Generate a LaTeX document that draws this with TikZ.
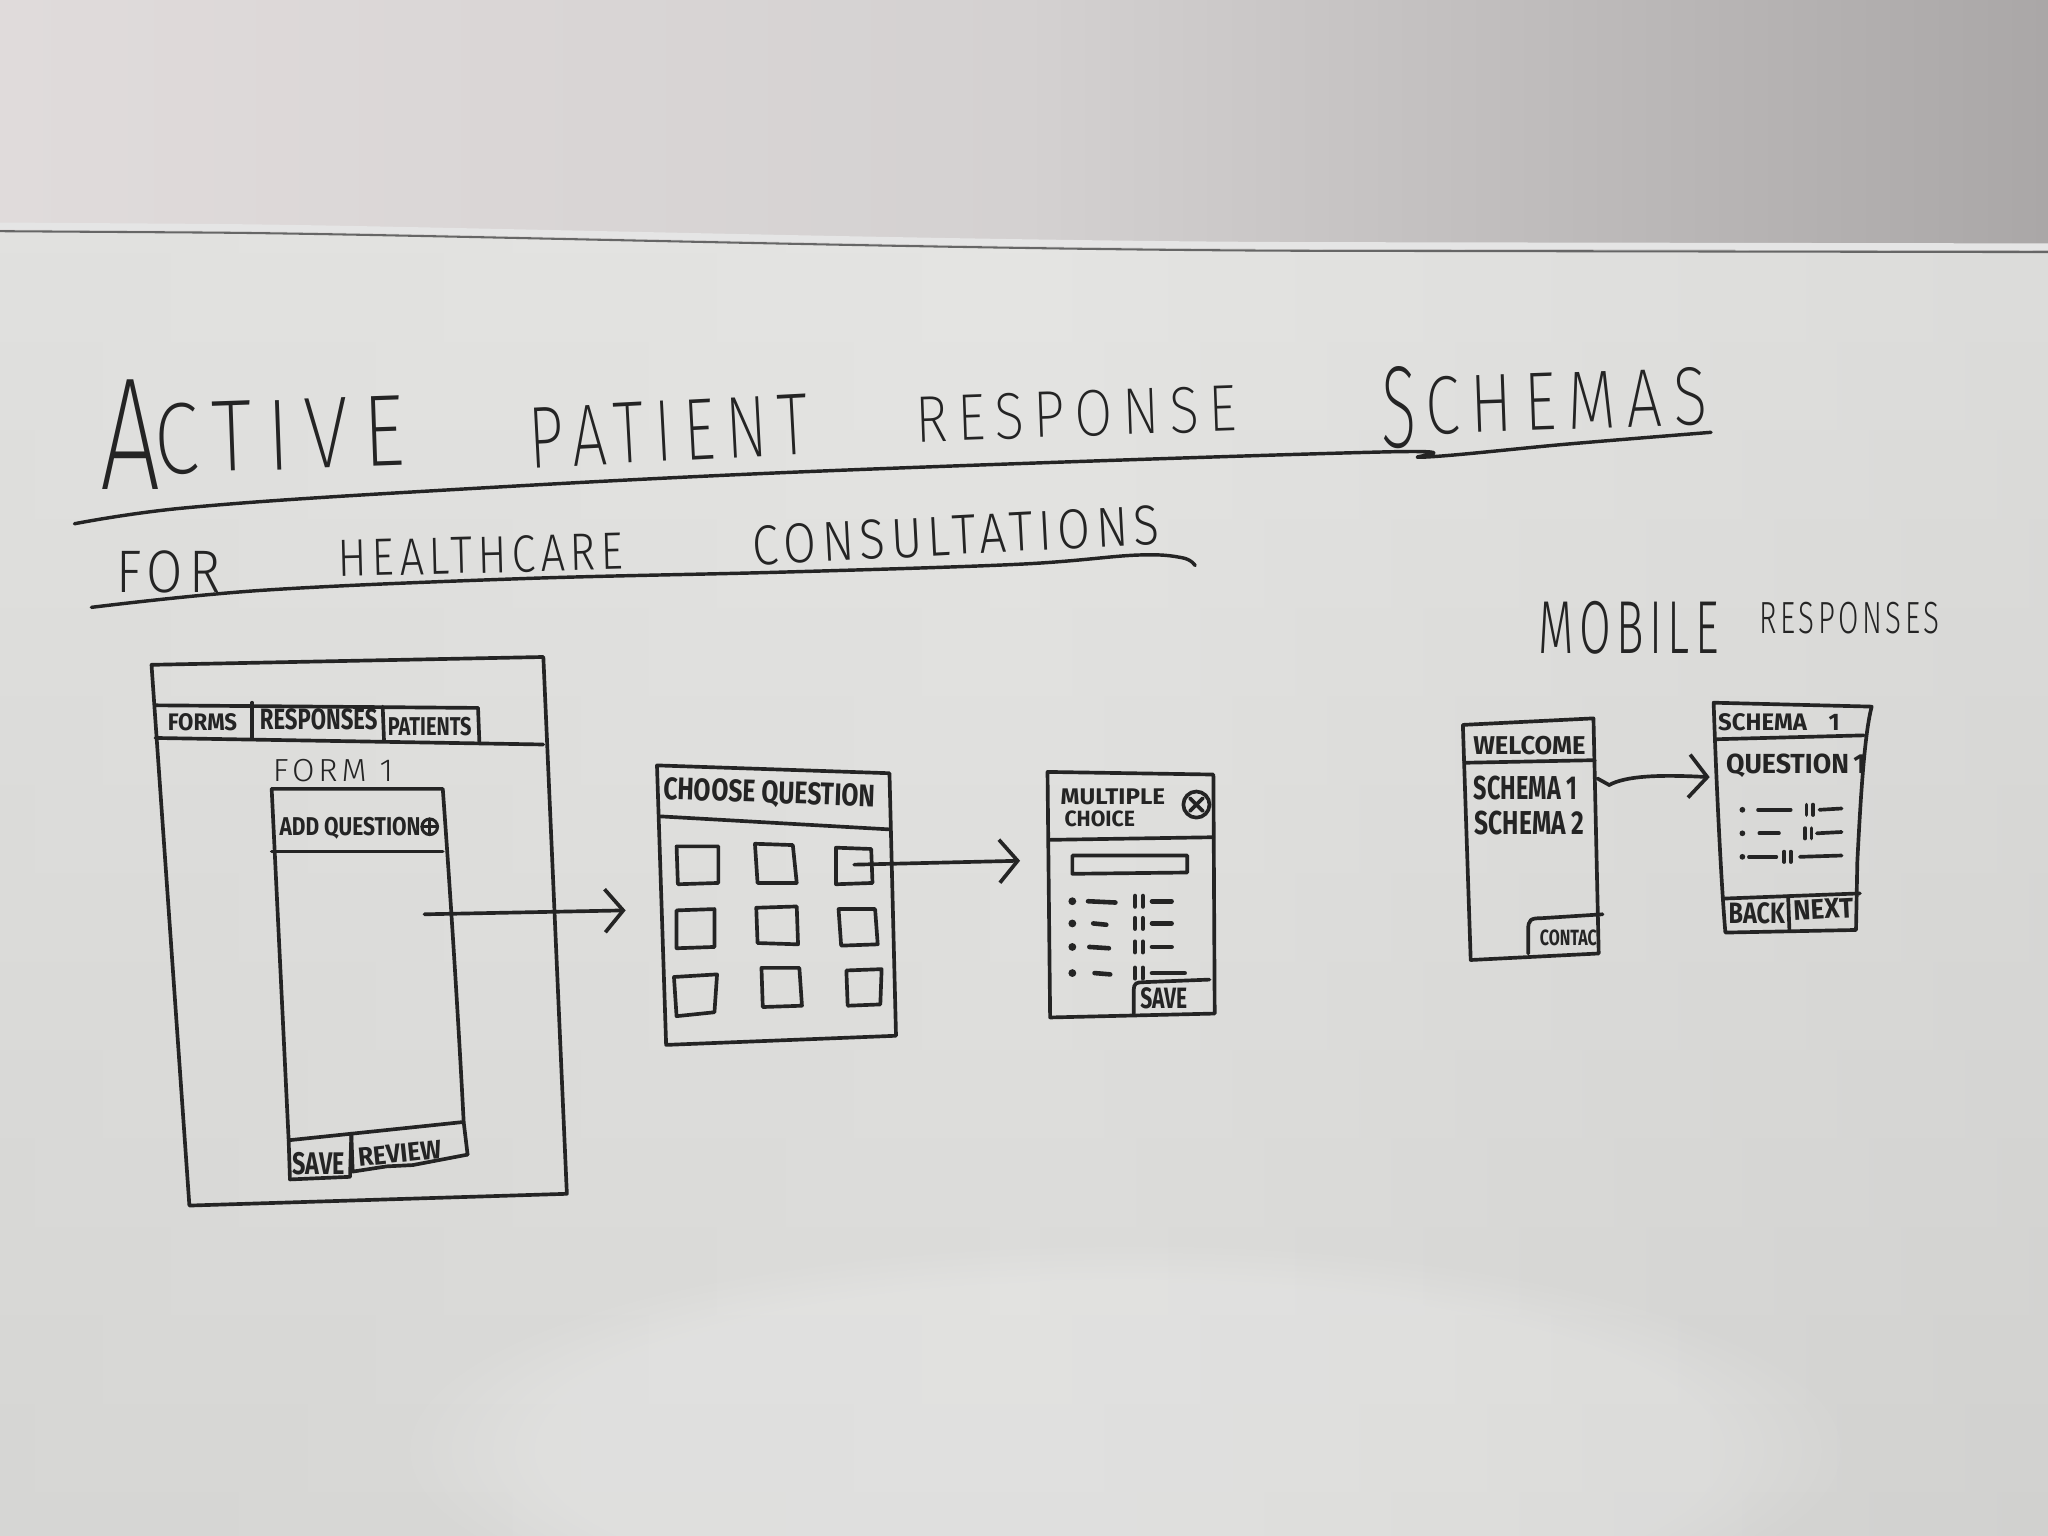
\documentclass[tikz,border=0pt]{standalone}
\usepackage{fontspec}
\usepackage{graphicx}
\usetikzlibrary{arrows.meta,fadings}
\newfontfamily\hbold{Fira Sans}
\IfFontExistsTF{Fira Sans Light}
  {\newfontfamily\hlight{Fira Sans Light}[LetterSpace=12]}
  {\newfontfamily\hlight{Fira Sans}[LetterSpace=12]}
\IfFontExistsTF{Fira Sans ExtraLight}
  {\newfontfamily\hxlight{Fira Sans ExtraLight}[LetterSpace=18]}
  {\newfontfamily\hxlight{Fira Sans}[LetterSpace=18]}
\newlength\pxu
\setlength\pxu{0.02cm}
% text fitted into a box of given width and cap height (in board pixels)
\newcommand\hw[3]{\resizebox{#1\pxu}{#2\pxu}{#3}}
\definecolor{ink}{RGB}{36,36,36}
\definecolor{wallL}{RGB}{224,219,219}
\definecolor{wallM}{RGB}{212,209,209}
\definecolor{wallR}{RGB}{170,167,167}
\definecolor{boardT}{RGB}{229,229,227}
\definecolor{boardB}{RGB}{214,214,212}
\begin{document}
\begin{tikzpicture}[x=0.02cm,y=-0.02cm,
  pen/.style={draw=ink,line width=1.6pt,line cap=round,line join=round},
  fine/.style={draw=ink,line width=1.3pt,line cap=round,line join=round},
  stub/.style={draw=ink,line width=2pt,line cap=round},
  lbl/.style={inner sep=0pt,outer sep=0pt,text=ink},
  flow/.style={draw=ink,line width=1.6pt,line cap=round,
    -{Straight Barb[length=0.28cm,width=0.66cm,line width=1.6pt]}}]
\useasboundingbox (0,0) rectangle (1568,1176);

% ---- whiteboard surface
\shade[top color=boardT,bottom color=boardB] (0,160) rectangle (1568,1176);
\shade[left color=boardB,right color=boardB!92!black,middle color=boardT,opacity=0.25]
  (0,160) rectangle (1568,1176);
\fill[white,opacity=0.18,path fading=circle with fuzzy edge 20 percent]
  (860,1110) ellipse (560 and 160);

% ---- wall above the board and the board's top edge
\shade[left color=wallL,right color=wallR,middle color=wallM]
  (0,0) -- (1568,0) -- (1568,192) -- (1000,191)
  .. controls (700,190) and (320,178) .. (150,177) -- (0,176) -- cycle;
\draw[color=white!80!gray,line width=3pt]
  (0,173) -- (150,174) .. controls (320,175) and (700,187) .. (1000,188) -- (1568,189);
\draw[color=black!60,line width=0.9pt]
  (0,177) -- (150,178) .. controls (320,179) and (700,191) .. (1000,192) -- (1568,193);

% ---- title
\node[lbl] (tA) at (100,333) {\hxlight\hw{46}{84}{A}};
\node[lbl,rotate=2] (tCtive) at (214,333) {\hxlight\hw{192}{54}{CTIVE}};
\node[lbl,rotate=3] (tPatient) at (512,330) {\hxlight\hw{214}{46}{PATIENT}};
\node[lbl,rotate=2] (tResponse) at (824,317) {\hxlight\hw{246}{35}{RESPONSE}};
\node[lbl] (tS) at (1071,312) {\hxlight\hw{27}{62}{S}};
\node[lbl,rotate=2] (tChemas) at (1199,307) {\hxlight\hw{216}{44}{CHEMAS}};
\draw[fine,line width=1.5pt] plot[smooth,tension=0.6] coordinates
  {(57,401) (140,389) (310,377) (620,361) (1060,346) (1090,350) (1200,340) (1310,331)};

% ---- subtitle
\node[lbl] (tFor) at (129,438) {\hlight\hw{80}{32}{FOR}};
\node[lbl,rotate=1.5] (tHealth) at (368,425) {\hlight\hw{218}{28}{HEALTHCARE}};
\node[lbl,rotate=3] (tConsult) at (732,410) {\hlight\hw{312}{30}{CONSULTATIONS}};
\draw[fine,line width=1.5pt] plot[smooth,tension=0.6] coordinates
  {(70,465) (200,452) (400,443) (600,438) (780,432) (870,425) (905,427) (915,433)};

% ---- mobile heading
\node[lbl] (tMobile) at (1247,481) {\hlight\hw{138}{40}{MOBILE}};
\node[lbl] (tMresp) at (1416,473) {\hlight\hw{138}{24}{RESPONSES}};

% ---- desktop form editor
\draw[pen] (116,509) -- (416,503) -- (434,914) -- (145,923) -- cycle;
\draw[pen] (119,540) -- (366,542);
\draw[pen] (119,565) -- (416,570);
\draw[pen] (193,538) -- (193,565);
\draw[pen] (293,541) -- (294,567);
\draw[pen] (366,542) -- (367,568);
\node[lbl] (tabForms) at (155,553) {\hbold\bfseries\hw{53}{13}{FORMS}};
\node[lbl] (tabResp) at (244,551) {\hbold\bfseries\hw{90}{16}{RESPONSES}};
\node[lbl] (tabPat) at (329,556) {\hbold\bfseries\hw{64}{14}{PATIENTS}};
\node[lbl] (form1) at (255,590) {\hlight\hw{92}{17}{FORM 1}};
% phone-sized form
\draw[pen] (208,604) -- (339,604) .. controls (346,700) and (352,800) .. (355,859)
  -- (358,884);
\draw[pen] (208,604) -- (221,873) -- (222,903) -- (268,901) -- (269,868);
\draw[pen] (208,652) -- (339,652);
\draw[pen] (221,873) -- (269,868) -- (355,859);
\draw[pen] (269,868) -- (270,897) -- (296,893) -- (316,892) -- (358,884);
\node[lbl] (addq) at (268,634) {\hbold\bfseries\hw{108}{14}{ADD QUESTION}};
\draw[fine] (329,633) circle (6);
\draw[fine] (323,633) -- (335,633) (329,627) -- (329,639);
\node[lbl] (save1) at (244,891) {\hbold\bfseries\hw{40}{17}{SAVE}};
\node[lbl,rotate=6] (review) at (306,883) {\hbold\bfseries\hw{64}{14}{REVIEW}};
\coordinate (a1s) at (325,700);
\coordinate (a1e) at (479,697);
\draw[flow] (a1s) -- (a1e);

% ---- question type picker
\draw[pen] (503,586) -- (681,592) -- (686,793) -- (510,800) -- cycle;
\draw[pen] (505,625) -- (681,635);
\node[lbl,rotate=-2] (choose) at (589,608) {\hbold\bfseries\hw{162}{17}{CHOOSE QUESTION}};
\draw[pen,shift={(534,662)}] (-16,-14) -- (16,-14) -- (16,14) -- (-15,15) -- cycle;
\draw[pen,shift={(594,661)}] (-16,-15) -- (13,-14) -- (16,15) -- (-14,15) -- cycle;
\draw[pen,shift={(654,663)}] (-14,-14) -- (13,-13) -- (14,13) -- (-14,14) -- cycle;
\draw[pen,shift={(533,711)}] (-15,-14) -- (14,-15) -- (14,14) -- (-15,15) -- cycle;
\draw[pen,shift={(595,709)}] (-16,-14) -- (15,-15) -- (16,14) -- (-15,13) -- cycle;
\draw[pen,shift={(657,710)}] (-15,-14) -- (13,-14) -- (15,13) -- (-13,14) -- cycle;
\draw[pen,shift={(533,761)}] (-17,-13) -- (16,-15) -- (14,14) -- (-15,17) -- cycle;
\draw[pen,shift={(598,756)}] (-15,-15) -- (14,-15) -- (16,14) -- (-14,15) -- cycle;
\draw[pen,shift={(661,756)}] (-13,-13) -- (14,-14) -- (13,13) -- (-12,14) -- cycle;
\coordinate (q3) at (654,662);
\coordinate (a2e) at (781,659);
\draw[flow] (q3) -- (a2e);

% ---- multiple choice editor
\draw[pen] (802,591) -- (929,593) -- (930,776) -- (804,779) -- cycle;
\draw[pen] (804,643) -- (929,641);
\node[lbl] (mcA) at (852,610) {\hbold\bfseries\hw{80}{12}{MULTIPLE}};
\node[lbl] (mcB) at (842,627) {\hbold\bfseries\hw{54}{12}{CHOICE}};
\draw[pen] (916,616) circle (10);
\draw[pen] (911,611) -- (921,621) (921,611) -- (911,621);
\draw[pen] (821,655) -- (909,655) -- (909,668) -- (821,669) -- cycle;
\foreach \y/\a/\b/\c in {690/833/854/897, 707/837/847/897, 725/834/849/897, 745/838/850/907}{
  \fill[ink] (821,\y) circle (3);
  \draw[stub] (\a,\y) -- (\b,\y+1);
  \draw[stub] (869,\y-4) -- (869,\y+4) (875,\y-4) -- (875,\y+4);
  \draw[stub] (882,\y) -- (\c,\y);
}
\draw[pen] (868,776) -- (868,758) .. controls (868,753) and (870,752) .. (875,752) -- (926,750);
\node[lbl] (save2) at (891,764) {\hbold\bfseries\hw{36}{16}{SAVE}};

% ---- mobile: welcome screen
\draw[pen] (1120,555) -- (1220,550) -- (1224,730) -- (1126,735) -- cycle;
\draw[pen] (1121,584) -- (1221,582);
\node[lbl] (welcome) at (1171,571) {\hbold\bfseries\hw{86}{14}{WELCOME}};
\node[lbl] (sch1) at (1168,603) {\hbold\bfseries\hw{79}{18}{SCHEMA 1}};
\node[lbl] (sch2) at (1171,630) {\hbold\bfseries\hw{84}{18}{SCHEMA 2}};
\begin{scope}
  \clip (1120,555) -- (1220,550) -- (1224,730) -- (1126,735) -- cycle;
  \node[lbl,anchor=west] (contact) at (1179,718) {\hbold\bfseries\hw{50}{12}{CONTACT}};
\end{scope}
\draw[pen] (1170,730) -- (1170,712) .. controls (1170,704) and (1172,703) .. (1180,703) -- (1227,700);
\coordinate (a3s) at (1223,596);
\coordinate (a3e) at (1309,595);
\draw[flow] (a3s) -- (1232,601) .. controls (1245,594) and (1270,593) .. (a3e);

% ---- mobile: question screen
\draw[pen] (1312,538) -- (1433,541) .. controls (1428,560) and (1425,600) .. (1422,660)
  -- (1421,712) -- (1321,714) .. controls (1318,680) and (1314,600) .. (1312,538) -- cycle;
\draw[pen] (1313,566) -- (1427,563);
\node[lbl] (sTitle) at (1362,553) {\hbold\bfseries\hw{93}{13}{SCHEMA\hspace{0.9em}1}};
\node[lbl] (q1) at (1375,586) {\hbold\bfseries\hw{107}{15}{QUESTION\,1}};
\foreach \y/\a/\b/\t/\c in {620/1346/1371/1383/1393, 638/1347/1362/1382/1391, 656/1339/1360/1366/1378}{
  \fill[ink] (1334,\y) circle (2.2);
  \draw[stub,line width=1.6pt] (\a,\y) -- (\b,\y);
  \draw[stub,line width=1.6pt] (\t,\y-4) -- (\t,\y+4) (\t+5,\y-4) -- (\t+5,\y+4);
  \draw[stub,line width=1.6pt] (\c,\y) -- (1410,\y-1);
}
\draw[pen] (1319,688) -- (1424,684);
\draw[pen] (1369,686) -- (1370,712);
\node[lbl] (back) at (1345,699) {\hbold\bfseries\hw{43}{16}{BACK}};
\node[lbl,rotate=3] (next) at (1396,696) {\hbold\bfseries\hw{46}{15}{NEXT}};
\end{tikzpicture}
\end{document}
